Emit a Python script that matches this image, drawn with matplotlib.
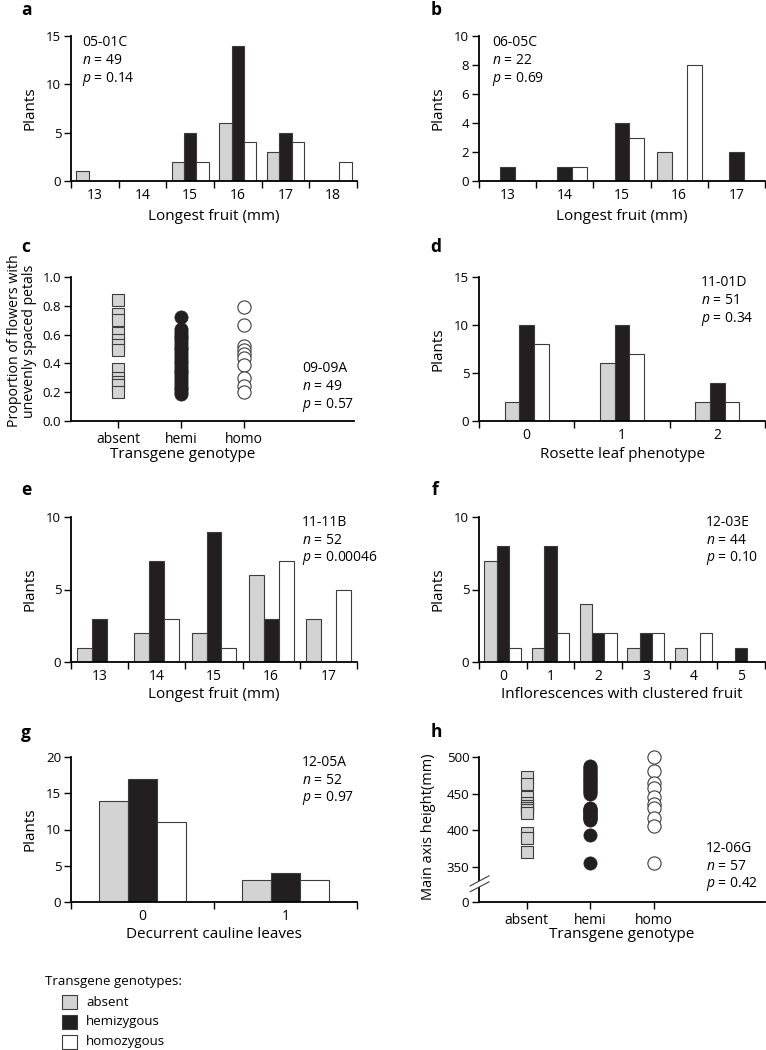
import matplotlib
matplotlib.use("Agg")
import matplotlib.pyplot as plt
from matplotlib.patches import Rectangle, Polygon
import numpy as np

plt.rcParams['font.family'] = ['Open Sans', 'DejaVu Sans']
plt.rcParams['mathtext.fontset'] = 'custom'
plt.rcParams['mathtext.rm'] = 'Open Sans'
plt.rcParams['mathtext.it'] = 'Open Sans:italic'

W, H = 766, 1050
GREY = '#d3d3d3'
BLACK = '#231f20'
EDGE = '#3c3c3c'

# --- data -------------------------------------------------------------
a_cats = ['13', '14', '15', '16', '17', '18']
a_absent = [1, 0, 2, 6, 3, 0]
a_hemi = [0, 0, 5, 14, 5, 0]
a_homo = [0, 0, 2, 4, 4, 2]

b_cats = ['13', '14', '15', '16', '17']
b_absent = [0, 0, 0, 2, 0]
b_hemi = [1, 1, 4, 0, 2]
b_homo = [0, 1, 3, 8, 0]

c_absent = [0.84, 0.74, 0.70, 0.61, 0.56, 0.53, 0.49,
            0.36, 0.30, 0.27, 0.25, 0.20]
c_hemi = [0.72, 0.64, 0.62, 0.60, 0.58, 0.57, 0.55, 0.53, 0.51, 0.50,
          0.48, 0.46, 0.44, 0.42, 0.40, 0.38, 0.36, 0.35, 0.33, 0.31,
          0.29, 0.27, 0.25, 0.23, 0.22, 0.20, 0.19]
c_homo = [0.79, 0.67, 0.52, 0.49, 0.465, 0.44, 0.39, 0.30, 0.24, 0.20]

d_cats = ['0', '1', '2']
d_absent = [2, 6, 2]
d_hemi = [10, 10, 4]
d_homo = [8, 7, 2]

e_cats = ['13', '14', '15', '16', '17']
e_absent = [1, 2, 2, 6, 3]
e_hemi = [3, 7, 9, 3, 0]
e_homo = [0, 3, 1, 7, 5]

f_cats = ['0', '1', '2', '3', '4', '5']
f_absent = [7, 1, 4, 1, 1, 0]
f_hemi = [8, 8, 2, 2, 0, 1]
f_homo = [1, 2, 2, 2, 2, 0]

g_cats = ['0', '1']
g_absent = [14, 3]
g_hemi = [17, 4]
g_homo = [11, 3]

h_absent = [473, 463, 445, 437, 433, 430, 427, 423, 396, 390, 370]
h_hemi = [488, 486, 484, 482, 480, 478, 476, 474, 472, 470, 468, 466,
          464, 462, 460, 458, 456, 454, 452, 450,
          430, 429, 428, 427, 426, 425, 424, 422, 420, 419, 418, 417,
          416, 414, 394, 355]
h_homo = [500, 481, 464, 458, 446, 436, 430, 417, 406, 355]

geno = ['absent', 'hemi', 'homo']
legend_labels = ['absent', 'hemizygous', 'homozygous']

fig = plt.figure(figsize=(W / 100, H / 100), dpi=100)


def pbox(x0, y0, x1, y1):
    """axes from pixel box (top-left origin)"""
    return fig.add_axes([x0 / W, 1 - y1 / H, (x1 - x0) / W, (y1 - y0) / H])


def ptxt(x, y, s, **kw):
    kw.setdefault('va', 'center')
    fig.text(x / W, 1 - y / H, s, **kw)


def style(ax):
    for side in ['top', 'right']:
        ax.spines[side].set_visible(False)
    for side in ['left', 'bottom']:
        ax.spines[side].set_linewidth(1.3)
    ax.tick_params(axis='both', which='major', direction='out', length=5,
                   width=1, labelsize=9.5, pad=2)


def bars(ax, cats, absent, hemi, homo, w, ymax, step):
    x = np.arange(len(cats))
    for k, (vals, col) in enumerate([(absent, GREY), (hemi, BLACK),
                                     (homo, 'white')]):
        ax.bar(x + (k - 1) * w, vals, w, color=col, edgecolor=EDGE,
               linewidth=0.8, zorder=2)
    ax.set_xlim(-0.5, len(cats) - 0.5)
    ax.set_ylim(0, ymax)
    ax.set_yticks(np.arange(0, ymax + 1, step))
    ax.set_xticks(np.arange(len(cats) + 1) - 0.5)
    ax.set_xticklabels([])
    ax.set_xticks(x, minor=True)
    ax.set_xticklabels(cats, minor=True)
    style(ax)
    ax.tick_params(axis='x', which='minor', length=0, labelsize=10, pad=5)


def dots(ax, absent, hemi, homo):
    ax.plot([1] * len(absent), absent, 's', ms=8, mfc=GREY, mec=EDGE,
            mew=0.8, ls='none', clip_on=False)
    ax.plot([2] * len(hemi), hemi, 'o', ms=9.5, mfc=BLACK, mec=BLACK,
            mew=0.5, ls='none', clip_on=False)
    ax.plot([3] * len(homo), homo, 'o', ms=9.5, mfc='white', mec=EDGE,
            mew=0.8, ls='none', clip_on=False)
    ax.set_xlim(0.25, 4.75)
    ax.set_xticks([1, 2, 3])
    ax.set_xticklabels(geno)
    style(ax)
    ax.tick_params(axis='x', labelsize=10, pad=3)


def stats(x, y, tag, n, p):
    for i, s in enumerate([tag, r'$n$ = %s' % n, r'$p$ = %s' % p]):
        ptxt(x, y + 18 * i, s, fontsize=10)


# a
ax = pbox(71, 36, 357, 181)
bars(ax, a_cats, a_absent, a_hemi, a_homo, 0.26, 15, 5)
stats(82, 43, '05-01C', 49, '0.14')
# b
ax = pbox(479, 36, 765, 181)
bars(ax, b_cats, b_absent, b_hemi, b_homo, 0.26, 10, 2)
stats(492, 43, '06-05C', 22, '0.69')
# c
ax = pbox(71, 277, 354, 421)
dots(ax, c_absent, c_hemi, c_homo)
ax.set_ylim(0, 1.0)
ax.set_yticks(np.arange(0, 1.01, 0.2))
ax.set_yticklabels(['%.1f' % v for v in np.arange(0, 1.01, 0.2)])
stats(302, 369, '09-09A', 49, '0.57')
# d
ax = pbox(479, 277, 765, 421)
bars(ax, d_cats, d_absent, d_hemi, d_homo, 0.153, 15, 5)
stats(701, 283, '11-01D', 51, '0.34')
# e
ax = pbox(71, 517, 357, 662)
bars(ax, e_cats, e_absent, e_hemi, e_homo, 0.26, 10, 5)
stats(302, 522, '11-11B', 52, '0.00046')
# f
ax = pbox(479, 517, 765, 662)
bars(ax, f_cats, f_absent, f_hemi, f_homo, 0.26, 10, 5)
stats(706, 522, '12-03E', 44, '0.10')
# g
ax = pbox(71, 757, 357, 902)
bars(ax, g_cats, g_absent, g_hemi, g_homo, 0.205, 20, 5)
stats(302, 762, '12-05A', 52, '0.97')
# h  (broken axis: 0..350 squeezed into a short gap)
ax = pbox(479, 757, 765, 902)
dots(ax, h_absent, h_hemi, h_homo)
bottom = 350 - 48
ax.set_ylim(bottom, 500)
ax.set_yticks([bottom, 350, 400, 450, 500])
ax.set_yticklabels(['0', '350', '400', '450', '500'])
tr = ax.get_yaxis_transform()
ax.add_patch(Polygon([(-0.031, 324), (0.035, 337.7), (0.035, 329.5),
                      (-0.031, 316)], closed=True, transform=tr,
                     facecolor='white', edgecolor='none', zorder=5,
                     clip_on=False))
for y0, y1 in [(324, 337.7), (316, 329.5)]:
    ax.plot([-0.031, 0.035], [y0, y1], color=EDGE, lw=0.8, transform=tr,
            clip_on=False, zorder=6)
stats(706, 848, '12-06G', 57, '0.42')

# panel letters
for s, x, y in [('a', 26, 10), ('b', 436, 10), ('c', 26, 247),
                ('d', 436, 247), ('e', 26, 490), ('f', 435, 490),
                ('g', 26, 733), ('h', 436, 732)]:
    ptxt(x, y, s, fontsize=12.5, fontweight='bold', ha='center')

# axis labels
for s, x, y in [('Longest fruit (mm)', 214, 216),
                ('Longest fruit (mm)', 622, 216),
                ('Transgene genotype', 183, 455),
                ('Rosette leaf phenotype', 623, 455),
                ('Longest fruit (mm)', 214, 695),
                ('Inflorescences with clustered fruit', 622, 695),
                ('Decurrent cauline leaves', 214, 935),
                ('Transgene genotype', 622, 935)]:
    ptxt(x, y, s, fontsize=11, ha='center')

for x, y in [(30, 108), (438, 108), (438, 349), (30, 589), (438, 589),
             (30, 829)]:
    ptxt(x, y, 'Plants', fontsize=11, ha='center', rotation=90)
ptxt(22, 341, 'Proportion of flowers with\nunevenly spaced petals',
     fontsize=10.2, ha='center', rotation=90, linespacing=1.0)
ptxt(428, 827, 'Main axis height(mm)', fontsize=10.5, ha='center',
     rotation=90)

# legend
ptxt(45, 982, 'Transgene genotypes:', fontsize=9.5)
for i, (lab, col) in enumerate(zip(legend_labels, [GREY, BLACK, 'white'])):
    yc = 1002 + 20 * i
    fig.patches.append(Rectangle((62 / W, 1 - (yc + 7) / H), 15 / W, 14 / H,
                                 transform=fig.transFigure, facecolor=col,
                                 edgecolor=EDGE, linewidth=0.8))
    ptxt(86, yc, lab, fontsize=9.5)

fig.savefig('out.png', dpi=100)
